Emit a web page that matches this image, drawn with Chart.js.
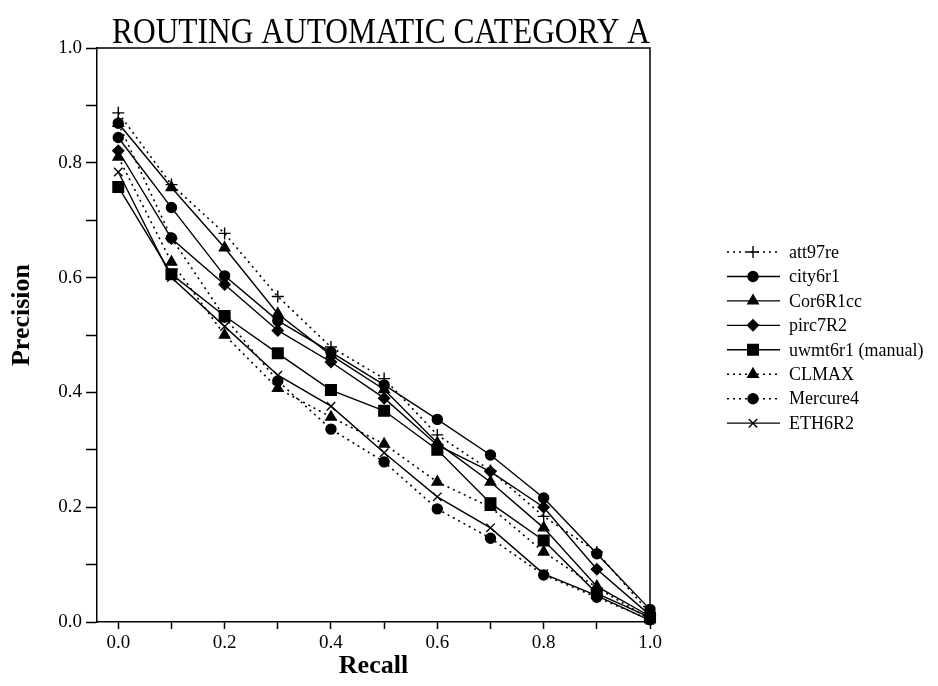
<!DOCTYPE html>
<html>
<head>
<meta charset="utf-8">
<script src="https://cdn.jsdelivr.net/npm/chart.js@4/dist/chart.umd.min.js"></script>
<style>
  html, body { margin: 0; padding: 0; background: #ffffff; }
  #wrap { width: 938px; height: 686px; }
</style>
</head>
<body>
<div id="wrap"><canvas id="c" width="938" height="686"></canvas></div>
<script>
// ---- data ----
const recall = [0.0, 0.1, 0.2, 0.3, 0.4, 0.5, 0.6, 0.7, 0.8, 0.9, 1.0];
const att97re  = [0.887, 0.762, 0.677, 0.567, 0.479, 0.424, 0.326, 0.264, 0.184, 0.122, 0.015];
const city6r1  = [0.844, 0.722, 0.603, 0.525, 0.470, 0.413, 0.353, 0.291, 0.216, 0.119, 0.022];
const Cor6R1cc = [0.869, 0.757, 0.652, 0.537, 0.465, 0.405, 0.312, 0.244, 0.164, 0.062, 0.010];
const pirc7R2  = [0.821, 0.668, 0.588, 0.508, 0.453, 0.390, 0.308, 0.262, 0.200, 0.092, 0.012];
const uwmt6r1  = [0.758, 0.606, 0.533, 0.468, 0.404, 0.368, 0.300, 0.207, 0.142, 0.050, 0.008];
const CLMAX    = [0.810, 0.627, 0.500, 0.407, 0.357, 0.310, 0.244, 0.200, 0.122, 0.060, 0.005];
const Mercure4 = [0.869, 0.669, 0.531, 0.420, 0.336, 0.279, 0.197, 0.146, 0.082, 0.043, 0.004];
const ETH6R2   = [0.784, 0.600, 0.515, 0.430, 0.376, 0.295, 0.218, 0.164, 0.084, 0.046, 0.003];
const seriesNames = ["att97re", "city6r1", "Cor6R1cc", "pirc7R2", "uwmt6r1 (manual)", "CLMAX", "Mercure4", "ETH6R2"];
const tickValues = [0.0, 0.1, 0.2, 0.3, 0.4, 0.5, 0.6, 0.7, 0.8, 0.9, 1.0];
const titleText = "ROUTING AUTOMATIC CATEGORY A";
const xTitle = "Recall";
const yTitle = "Precision";

// ---- styling ----
const FONT = "'Liberation Serif', 'Times New Roman', Times, serif";
const seriesValues = [att97re, city6r1, Cor6R1cc, pirc7R2, uwmt6r1, CLMAX, Mercure4, ETH6R2];
const styles = [
  { pointStyle: 'cross',    radius: 6,   dash: [2, 4] },
  { pointStyle: 'circle',   radius: 5,   dash: [] },
  { pointStyle: 'triangle', radius: 6,   dash: [] },
  { pointStyle: 'rectRot',  radius: 5.5, dash: [] },
  { pointStyle: 'rect',     radius: 7.5, dash: [] },
  { pointStyle: 'triangle', radius: 6,   dash: [2, 4] },
  { pointStyle: 'circle',   radius: 5,   dash: [2, 4] },
  { pointStyle: 'crossRot', radius: 6,   dash: [] }
];

const datasets = seriesNames.map((name, i) => ({
  label: name,
  data: recall.map((r, j) => ({ x: r, y: seriesValues[i][j] })),
  borderColor: '#000',
  backgroundColor: '#000',
  borderWidth: styles[i].dash.length ? 1.6 : 1.4,
  borderDash: styles[i].dash,
  pointStyle: styles[i].pointStyle,
  pointRadius: styles[i].radius,
  pointHoverRadius: styles[i].radius,
  pointBorderWidth: 1.4,
  pointBackgroundColor: '#000',
  pointBorderColor: '#000',
  tension: 0,
  fill: false,
  clip: false
}));

function isMajor(v) { return Math.round(v * 10) % 2 === 0; }

const customPlugin = {
  id: 'custom',
  afterDraw(chart) {
    const ctx = chart.ctx;
    const ca = chart.chartArea;
    ctx.save();
    // box top & right
    ctx.strokeStyle = '#000';
    ctx.lineWidth = 1.5;
    ctx.beginPath();
    ctx.moveTo(ca.left, ca.top);
    ctx.lineTo(ca.right, ca.top);
    ctx.lineTo(ca.right, ca.bottom);
    ctx.stroke();

    // title (condensed serif)
    ctx.fillStyle = '#000';
    ctx.font = 'normal 35px ' + FONT;
    ctx.textBaseline = 'alphabetic';
    ctx.textAlign = 'center';
    const w = ctx.measureText(titleText).width;
    const s = Math.min(1, 538 / w);
    ctx.save();
    ctx.translate(381, 43);
    ctx.scale(s, 1);
    ctx.fillText(titleText, 0, 0);
    ctx.restore();

    // y axis title
    ctx.save();
    ctx.font = 'bold 26px ' + FONT;
    ctx.textAlign = 'center';
    ctx.textBaseline = 'middle';
    ctx.translate(22, 315);
    ctx.rotate(-Math.PI / 2);
    ctx.fillText(yTitle, 0, 0);
    ctx.restore();

    // legend
    const lx0 = 727, lx1 = 780, mx = 753, tx = 789;
    const y0 = 252, dy = 24.45;
    ctx.font = 'normal 18px ' + FONT;
    ctx.textAlign = 'left';
    ctx.textBaseline = 'middle';
    chart.data.datasets.forEach((ds, i) => {
      const y = y0 + i * dy;
      ctx.save();
      ctx.strokeStyle = '#000';
      ctx.lineWidth = ds.borderWidth;
      ctx.setLineDash(ds.borderDash || []);
      ctx.beginPath();
      ctx.moveTo(lx0, y);
      ctx.lineTo(lx1, y);
      ctx.stroke();
      ctx.setLineDash([]);
      ctx.fillStyle = '#000';
      ctx.strokeStyle = '#000';
      ctx.lineWidth = ds.pointBorderWidth;
      Chart.helpers.drawPoint(ctx, {
        pointStyle: ds.pointStyle,
        radius: ds.pointRadius,
        rotation: 0,
        borderWidth: ds.pointBorderWidth
      }, mx, y);
      ctx.restore();
      ctx.fillStyle = '#000';
      ctx.fillText(ds.label, tx, y + 1);
    });
    ctx.restore();
  }
};

Chart.defaults.font.family = FONT;
Chart.defaults.color = '#000';

new Chart(document.getElementById('c'), {
  type: 'line',
  data: { datasets },
  plugins: [customPlugin],
  options: {
    responsive: false,
    animation: false,
    events: [],
    layout: { padding: { top: 48, right: 288, left: 0, bottom: 0 } },
    plugins: {
      legend: { display: false },
      title: { display: false },
      tooltip: { enabled: false }
    },
    scales: {
      x: {
        type: 'linear',
        min: -0.04,
        max: 1.0,
        afterBuildTicks: (scale) => { scale.ticks = tickValues.map(v => ({ value: v })); },
        afterFit: (scale) => { scale.height = 64; },
        ticks: {
          autoSkip: false,
          maxRotation: 0,
          padding: 3,
          font: { size: 19, family: FONT },
          color: '#000',
          callback: (v) => isMajor(v) ? v.toFixed(1) : ''
        },
        grid: {
          display: true,
          drawOnChartArea: false,
          drawTicks: true,
          tickLength: 7,
          tickWidth: 1.5,
          color: '#000'
        },
        border: { display: true, color: '#000', width: 1.5 },
        title: {
          display: true,
          text: xTitle,
          font: { size: 26, weight: 'bold', family: FONT },
          color: '#000',
          padding: { top: 0, bottom: 4 }
        }
      },
      y: {
        type: 'linear',
        min: 0,
        max: 1.0,
        afterBuildTicks: (scale) => { scale.ticks = tickValues.map(v => ({ value: v })); },
        afterFit: (scale) => { scale.width = 97; },
        ticks: {
          autoSkip: false,
          padding: 4,
          font: { size: 19, family: FONT },
          color: '#000',
          callback: (v) => isMajor(v) ? v.toFixed(1) : ''
        },
        grid: {
          display: true,
          drawOnChartArea: false,
          drawTicks: true,
          tickLength: 11,
          tickWidth: 1.5,
          color: '#000'
        },
        border: { display: true, color: '#000', width: 1.5 },
        title: { display: false }
      }
    }
  }
});
</script>
</body>
</html>
